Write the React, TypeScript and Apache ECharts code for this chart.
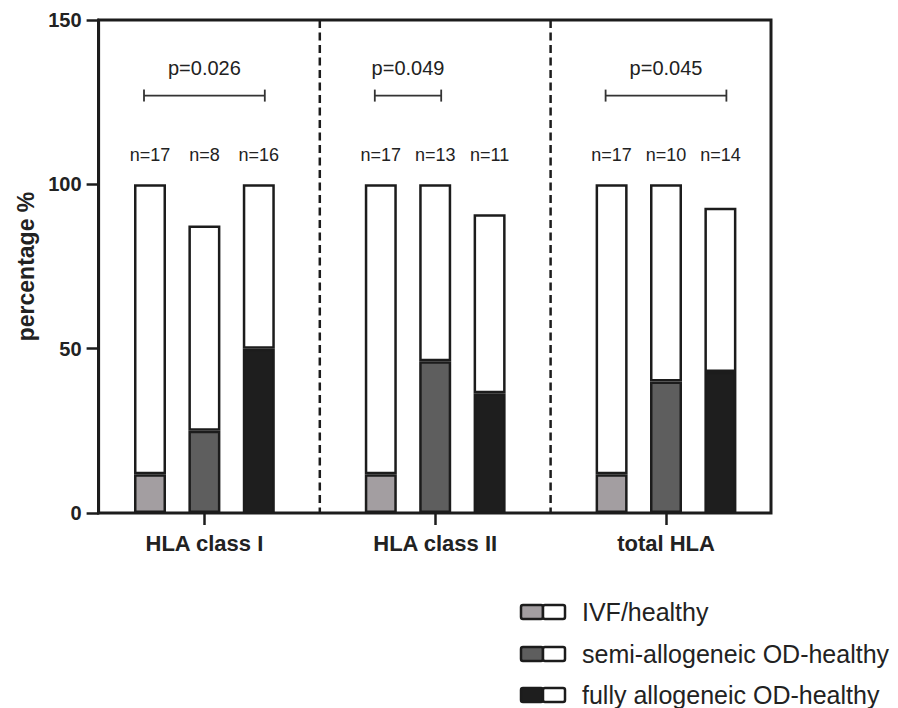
import React, { useEffect, useRef } from "react";
import * as echarts from "echarts";

const categories = ["HLA class I", "HLA class II", "total HLA"];
const seriesNames = ["IVF/healthy", "semi-allogeneic OD-healthy", "fully allogeneic OD-healthy"];
const seriesColors = ["#a39ea1", "#5e5e5e", "#1e1e1e"];
// filled (positive) percentage per group
const ivfFilled = [11.8, 11.8, 11.8];
const semiFilled = [25, 46.2, 40];
const fullyFilled = [50, 36.4, 42.9];
// total bar height per group
const ivfTotal = [100, 100, 100];
const semiTotal = [87.5, 100, 100];
const fullyTotal = [100, 90.9, 92.9];
// sample sizes per group: [ivf, semi, fully]
const nLabels = [
  ["n=17", "n=8", "n=16"],
  ["n=17", "n=13", "n=11"],
  ["n=17", "n=10", "n=14"],
];
const pLabels = ["p=0.026", "p=0.049", "p=0.045"];
const bracketFrom = [0, 0, 0];
const bracketTo = [2, 1, 2];
const yTicks = [0, 50, 100, 150];

const FONT = "'Liberation Sans', Arial, Helvetica, sans-serif";
const INK = "#1c1c1c";
const BAR_W = 32;
const BAR_GAP = 0.7;

export default function App() {
  const ref = useRef<HTMLDivElement>(null);
  useEffect(() => {
    if (!ref.current) return;
    const chart = echarts.init(ref.current, null, { renderer: "svg" });
    const filled = [ivfFilled, semiFilled, fullyFilled];
    const totals = [ivfTotal, semiTotal, fullyTotal];
    const series: any[] = [];
    for (let s = 0; s < 3; s++) {
      series.push({
        type: "bar",
        name: seriesNames[s],
        stack: "s" + s,
        barWidth: BAR_W,
        barGap: BAR_GAP * 100 + "%",
        data: filled[s],
        itemStyle: { color: seriesColors[s], borderColor: INK, borderWidth: 2.5 },
        z: 3,
      });
      series.push({
        type: "bar",
        name: seriesNames[s] + " rest",
        stack: "s" + s,
        barWidth: BAR_W,
        barGap: BAR_GAP * 100 + "%",
        data: totals[s].map((t, i) => +(t - filled[s][i]).toFixed(2)),
        itemStyle: { color: "#ffffff", borderColor: INK, borderWidth: 2.5 },
        z: 3,
      });
    }
    chart.setOption({
      animation: false,
      grid: { left: 89, right: 116.6, top: 20, bottom: 195, containLabel: false },
      xAxis: {
        type: "category",
        data: categories,
        axisLine: { show: false },
        axisTick: { show: true, alignWithLabel: true, length: 12, lineStyle: { color: INK, width: 2.5 } },
        axisLabel: { margin: 19, fontSize: 22, fontWeight: "bold", color: "#222", fontFamily: FONT },
        splitLine: { show: false },
      },
      yAxis: {
        type: "value",
        min: 0,
        max: yTicks[yTicks.length - 1],
        interval: 50,
        offset: -9.6,
        name: "percentage %",
        nameLocation: "middle",
        nameGap: 60,
        nameTextStyle: { fontSize: 23, fontWeight: "bold", color: "#222", fontFamily: FONT },
        axisLine: { show: true, lineStyle: { color: INK, width: 3 } },
        axisTick: { show: true, length: 12, lineStyle: { color: INK, width: 2.5 } },
        axisLabel: { margin: 17, fontSize: 20, fontWeight: "bold", color: "#222", fontFamily: FONT },
        splitLine: { show: false },
      },
      series,
    });

    const cx = categories.map((c) => chart.convertToPixel({ xAxisIndex: 0 }, c) as number);
    const step = BAR_W * (1 + BAR_GAP);
    const yN = chart.convertToPixel({ yAxisIndex: 0 }, 109) as number;
    const yBr = chart.convertToPixel({ yAxisIndex: 0 }, 127) as number;
    const yP = chart.convertToPixel({ yAxisIndex: 0 }, 135.4) as number;
    const yTop = chart.convertToPixel({ yAxisIndex: 0 }, 150) as number;
    const yBot = chart.convertToPixel({ yAxisIndex: 0 }, 0) as number;
    const frameL = 98.6;
    const frameR = 771;
    const g: any[] = [];
    g.push({
      type: "rect",
      shape: { x: frameL, y: yTop, width: frameR - frameL, height: yBot - yTop },
      style: { fill: "none", stroke: INK, lineWidth: 3 },
      z: 10,
    });
    for (let i = 0; i < cx.length - 1; i++) {
      const x = (cx[i] + cx[i + 1]) / 2;
      g.push({
        type: "line",
        shape: { x1: x, y1: yTop, x2: x, y2: yBot },
        style: { stroke: INK, lineWidth: 2.5, lineDash: [8, 4.5] },
        z: 10,
      });
    }
    cx.forEach((c, gi) => {
      nLabels[gi].forEach((t, bi) => {
        g.push({
          type: "text",
          x: c + (bi - 1) * step,
          y: yN,
          style: { text: t, fontSize: 18, fontFamily: FONT, fill: "#222", align: "center", verticalAlign: "middle" },
          z: 10,
        });
      });
      const x1 = c + (bracketFrom[gi] - 1) * step - 6;
      const x2 = c + (bracketTo[gi] - 1) * step + 6;
      g.push({ type: "line", shape: { x1, y1: yBr, x2, y2: yBr }, style: { stroke: "#333", lineWidth: 1.8 }, z: 10 });
      g.push({ type: "line", shape: { x1, y1: yBr - 6, x2: x1, y2: yBr + 6 }, style: { stroke: "#333", lineWidth: 1.8 }, z: 10 });
      g.push({ type: "line", shape: { x1: x2, y1: yBr - 6, x2, y2: yBr + 6 }, style: { stroke: "#333", lineWidth: 1.8 }, z: 10 });
      g.push({
        type: "text",
        x: (x1 + x2) / 2,
        y: yP,
        style: { text: pLabels[gi], fontSize: 20, fontFamily: FONT, fill: "#222", align: "center", verticalAlign: "middle" },
        z: 10,
      });
    });
    const legendY = [612, 654, 695];
    seriesNames.forEach((name, i) => {
      const y = legendY[i];
      g.push({
        type: "rect",
        shape: { x: 521, y: y - 7, width: 22, height: 14, r: 2 },
        style: { fill: seriesColors[i], stroke: INK, lineWidth: 2.5 },
        z: 10,
      });
      g.push({
        type: "rect",
        shape: { x: 543, y: y - 7, width: 22, height: 14, r: 2 },
        style: { fill: "#fff", stroke: INK, lineWidth: 2.5 },
        z: 10,
      });
      g.push({
        type: "text",
        x: 582,
        y: y,
        style: { text: name, fontSize: 25, fontFamily: FONT, fill: "#222", align: "left", verticalAlign: "middle" },
        z: 10,
      });
    });
    chart.setOption({ graphic: g });
    return () => chart.dispose();
  }, []);
  return <div ref={ref} style={{ width: 898, height: 708, position: "absolute", left: 0, top: 0 }} />;
}
